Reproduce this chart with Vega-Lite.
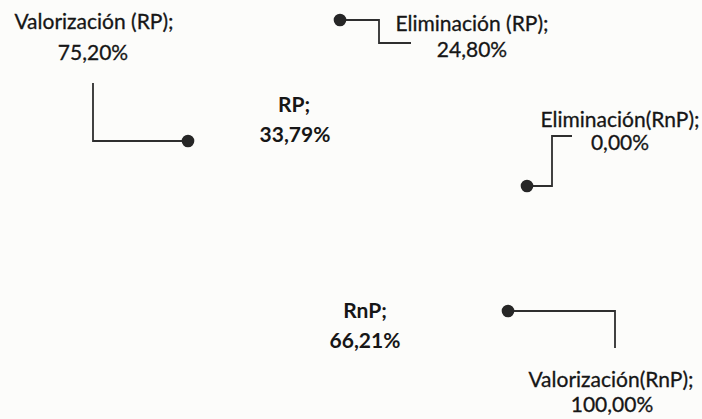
{
  "$schema": "https://vega.github.io/schema/vega-lite/v6.json",
  "width": 702,
  "height": 419,
  "padding": 0,
  "autosize": {"type": "fit", "contains": "padding"},
  "background": "#fcfcfa",
  "config": {"view": {"stroke": null}},
  "datasets": {
    "labels": [
      {"text": "Valorización (RP);", "x": 94, "y": 29, "bold": false},
      {"text": "75,20%", "x": 93, "y": 60, "bold": false},
      {"text": "RP;", "x": 294, "y": 112, "bold": true},
      {"text": "33,79%", "x": 295, "y": 142, "bold": true},
      {"text": "Eliminación (RP);", "x": 472, "y": 31, "bold": false},
      {"text": "24,80%", "x": 472, "y": 57, "bold": false},
      {"text": "Eliminación(RnP);", "x": 620, "y": 127, "bold": false},
      {"text": "0,00%", "x": 620, "y": 150, "bold": false},
      {"text": "RnP;", "x": 365, "y": 318, "bold": true},
      {"text": "66,21%", "x": 365, "y": 348, "bold": true},
      {"text": "Valorización(RnP);", "x": 611, "y": 387, "bold": false},
      {"text": "100,00%", "x": 612, "y": 412, "bold": false}
    ],
    "leaders": [
      {"id": "Valorización (RP)", "k": 0, "x": 188, "y": 141},
      {"id": "Valorización (RP)", "k": 1, "x": 93, "y": 141},
      {"id": "Valorización (RP)", "k": 2, "x": 93, "y": 83},
      {"id": "Eliminación (RP)", "k": 0, "x": 340, "y": 20},
      {"id": "Eliminación (RP)", "k": 1, "x": 379, "y": 20},
      {"id": "Eliminación (RP)", "k": 2, "x": 379, "y": 43},
      {"id": "Eliminación (RP)", "k": 3, "x": 411, "y": 43},
      {"id": "Eliminación(RnP)", "k": 0, "x": 527, "y": 186},
      {"id": "Eliminación(RnP)", "k": 1, "x": 552, "y": 186},
      {"id": "Eliminación(RnP)", "k": 2, "x": 552, "y": 136},
      {"id": "Eliminación(RnP)", "k": 3, "x": 572, "y": 136},
      {"id": "Valorización(RnP)", "k": 0, "x": 508, "y": 311},
      {"id": "Valorización(RnP)", "k": 1, "x": 615, "y": 311},
      {"id": "Valorización(RnP)", "k": 2, "x": 615, "y": 348}
    ]
  },
  "layer": [
    {
      "data": {"name": "leaders"},
      "mark": {"type": "line", "color": "#2e2e2e", "strokeWidth": 1.8, "interpolate": "linear"},
      "encoding": {
        "x": {"field": "x", "type": "quantitative", "scale": {"domain": [0, 702], "nice": false, "zero": false}, "axis": null},
        "y": {"field": "y", "type": "quantitative", "scale": {"domain": [419, 0], "nice": false, "zero": false}, "axis": null},
        "detail": {"field": "id"},
        "order": {"field": "k"}
      }
    },
    {
      "data": {"name": "leaders"},
      "transform": [{"filter": "datum.k == 0"}],
      "mark": {"type": "point", "filled": true, "color": "#262626", "size": 160, "opacity": 1},
      "encoding": {
        "x": {"field": "x", "type": "quantitative"},
        "y": {"field": "y", "type": "quantitative"}
      }
    },
    {
      "data": {"name": "labels"},
      "transform": [{"filter": "!datum.bold"}],
      "mark": {"type": "text", "font": "Lato", "fontSize": 21, "baseline": "alphabetic", "align": "center", "color": "#161616", "stroke": "#161616", "strokeWidth": 0.3},
      "encoding": {
        "x": {"field": "x", "type": "quantitative"},
        "y": {"field": "y", "type": "quantitative"},
        "text": {"field": "text"}
      }
    },
    {
      "data": {"name": "labels"},
      "transform": [{"filter": "datum.bold"}],
      "mark": {"type": "text", "font": "Lato", "fontSize": 21, "fontWeight": "bold", "baseline": "alphabetic", "align": "center", "color": "#161616"},
      "encoding": {
        "x": {"field": "x", "type": "quantitative"},
        "y": {"field": "y", "type": "quantitative"},
        "text": {"field": "text"}
      }
    }
  ]
}
